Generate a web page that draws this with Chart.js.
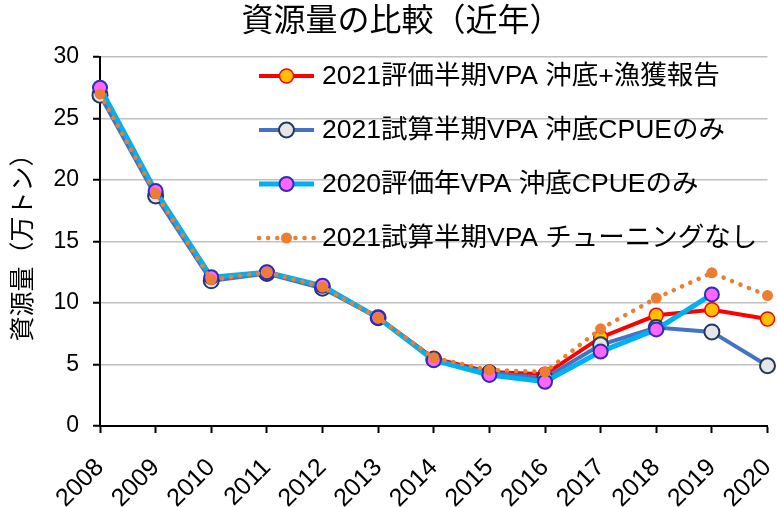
<!DOCTYPE html>
<html><head><meta charset="utf-8">
<script src="https://cdn.jsdelivr.net/npm/chart.js@4/dist/chart.umd.min.js"></script>
<style>html,body{margin:0;padding:0;background:#fff}#wrap{width:777px;height:507px}</style>
</head><body><div id="wrap"><canvas id="c" width="777" height="507"></canvas></div>
<script>
const years = ['2008','2009','2010','2011','2012','2013','2014','2015','2016','2017','2018','2019','2020'];
const evalHalf2021   = [27.0, 18.9, 11.9, 12.5, 11.3, 8.8, 5.5, 4.4, 4.2, 7.2, 9.0, 9.45, 8.7];
const trialCpue2021  = [26.9, 18.7, 11.8, 12.4, 11.2, 8.8, 5.4, 4.3, 3.9, 6.6, 8.0, 7.65, 4.9];
const eval2020       = [27.5, 19.1, 12.1, 12.5, 11.4, 8.8, 5.35, 4.15, 3.6, 6.05, 7.85, 10.7, null];
const trialNoTune2021= [27.0, 18.9, 11.9, 12.5, 11.3, 8.8, 5.55, 4.55, 4.4, 7.9, 10.4, 12.45, 10.6];
const seriesNames = ['2021評価半期VPA 沖底+漁獲報告','2021試算半期VPA 沖底CPUEのみ','2020評価年VPA 沖底CPUEのみ','2021試算半期VPA チューニングなし'];
const chartTitle = '資源量の比較（近年）';
const yTitle = '資源量（万トン）';
const yMin = 0, yMax = 30, yStep = 5;

const FONT = "'Liberation Sans', 'Noto Sans CJK JP', sans-serif";
Chart.defaults.font.family = FONT;
Chart.defaults.color = '#000';

const titleAndLegend = {
  id: 'titleAndLegend',
  afterDraw(chart) {
    const ctx = chart.ctx, area = chart.chartArea;
    ctx.save();
    ctx.fillStyle = '#000'; ctx.font = '32px ' + FONT;
    ctx.textAlign = 'center'; ctx.textBaseline = 'middle';
    ctx.fillText(chartTitle, chart.width / 2 + 13, 22);
    chart.data.datasets.forEach((ds, i) => {
      const y = area.top + 19 + i * 54;
      const x0 = area.left + 159, x1 = x0 + 55, xm = (x0 + x1) / 2;
      ctx.beginPath();
      ctx.setLineDash(ds.borderDash || []);
      ctx.lineCap = ds.borderCapStyle || 'butt';
      ctx.strokeStyle = ds.borderColor; ctx.lineWidth = ds.borderWidth;
      ctx.moveTo(x0, y); ctx.lineTo(x1, y); ctx.stroke();
      ctx.setLineDash([]);
      ctx.beginPath(); ctx.arc(xm, y, ds.pointRadius, 0, Math.PI * 2);
      ctx.fillStyle = ds.pointBackgroundColor; ctx.fill();
      if (ds.pointBorderWidth) { ctx.lineWidth = ds.pointBorderWidth; ctx.strokeStyle = ds.pointBorderColor; ctx.stroke(); }
      ctx.fillStyle = '#000'; ctx.font = '26.5px ' + FONT;
      ctx.textBaseline = 'middle'; ctx.textAlign = 'left';
      ctx.fillText(ds.label, x1 + 8, y + 1);
    });
    ctx.restore();
  }
};

new Chart(document.getElementById('c'), {
  type: 'line',
  data: {
    labels: years,
    datasets: [
      { label: seriesNames[0], data: evalHalf2021, order: 3, clip: false,
        borderColor: '#FF0000', borderWidth: 4, pointRadius: 7, pointBackgroundColor: '#FFC000', pointBorderColor: '#FF0000', pointBorderWidth: 1.5, tension: 0 },
      { label: seriesNames[1], data: trialCpue2021, order: 2, clip: false,
        borderColor: '#4472C4', borderWidth: 4, pointRadius: 7.5, pointBackgroundColor: '#E7E6E6', pointBorderColor: '#1F3864', pointBorderWidth: 2, tension: 0 },
      { label: seriesNames[2], data: eval2020, order: 1, clip: false,
        borderColor: '#00B0F0', borderWidth: 5, pointRadius: 7, pointBackgroundColor: '#FF66FF', pointBorderColor: '#2E2EB8', pointBorderWidth: 2, tension: 0 },
      { label: seriesNames[3], data: trialNoTune2021, order: 0, clip: false,
        borderColor: '#ED7D31', borderWidth: 4.5, borderDash: [0.1, 9], borderCapStyle: 'round',
        pointRadius: 5.5, pointBackgroundColor: '#ED7D31', pointBorderColor: '#ED7D31', pointBorderWidth: 0, tension: 0 }
    ]
  },
  options: {
    responsive: false, animation: false,
    layout: { padding: { left: 0, right: 8, top: 57, bottom: 0 } },
    plugins: {
      legend: { display: false },
      tooltip: { enabled: false },
      title: { display: false }
    },
    scales: {
      x: {
        offset: false,
        grid: { drawOnChartArea: false, drawTicks: true, tickLength: 7, tickColor: '#000', tickWidth: 2 },
        border: { color: '#000', width: 2 },
        ticks: { font: { size: 25 }, color: '#000', maxRotation: 45, minRotation: 45, padding: 20, autoSkip: false },
        afterFit(s) { s.height = 81; s.paddingRight = 0; s.paddingLeft = 0; }
      },
      y: {
        min: yMin, max: yMax,
        grid: { color: (c) => c.tick && c.tick.value === 0 ? 'rgba(0,0,0,0)' : '#c0c0c0', lineWidth: 1.5, tickLength: 7, tickColor: '#000', tickWidth: 2 },
        border: { color: '#000', width: 2 },
        ticks: { stepSize: yStep, font: { size: 23 }, color: '#000', padding: 14 },
        title: { display: true, text: yTitle, font: { size: 25 }, color: '#000', padding: { top: 9, bottom: 0 } },
        afterFit(s) { s.width = 100; }
      }
    }
  },
  plugins: [titleAndLegend]
});
</script>
</body></html>
